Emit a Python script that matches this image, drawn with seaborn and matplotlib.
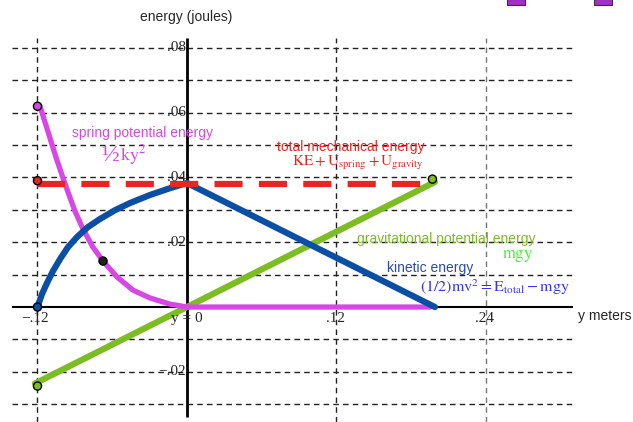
import numpy as np
import matplotlib
matplotlib.use("Agg")
import matplotlib.pyplot as plt
import seaborn as sns
from matplotlib.patches import Rectangle

sns.set_theme(style="white")
plt.rcParams['font.family'] = ['Liberation Sans', 'DejaVu Sans']
plt.rcParams['mathtext.fontset'] = 'stix'

# data (y in metres, energy in joules)
spring_y = [-0.118, -0.114, -0.110, -0.1052, -0.0995, -0.0947, -0.0899, -0.0835,
            -0.0755, -0.0674, -0.0562, -0.0433, -0.0297, -0.0136, 0.0, 0.195]
spring_e = [0.062, 0.0571, 0.0522, 0.0463, 0.0398, 0.0346, 0.0296, 0.0241,
            0.0185, 0.0142, 0.0093, 0.0052, 0.0028, 0.0009, 0.0, 0.0]

kinetic_y = [-0.12, -0.1164, -0.1124, -0.1076, -0.1019, -0.0955, -0.0883, -0.0795,
             -0.0698, -0.0578, -0.0458, -0.0297, -0.0136, 0.0, 0.199]
kinetic_e = [0.0, 0.0040, 0.0074, 0.0111, 0.0148, 0.0185, 0.0216, 0.0247,
             0.0272, 0.0299, 0.0321, 0.0346, 0.0367, 0.0383, 0.0]

grav_y = [-0.122, 0.0, 0.199]
grav_e = [-0.0236, 0.0, 0.0386]

total_y = [-0.12, 0.2]
total_e = [0.038, 0.038]

# end-point dots
dot_y = [-0.12, -0.12, -0.0674, -0.12, -0.12, 0.197]
dot_e = [0.062, 0.039, 0.0142, 0.0, -0.0244, 0.0395]
dot_c = ["#d946e6", "#e8261f", "#222222", "#0b4ea6", "#7bbd22", "#7bbd22"]

grid_levels = [-0.03, -0.02, -0.01, 0.01, 0.02, 0.03, 0.04, 0.05, 0.06, 0.07, 0.08]
grid_x = [-0.12, 0.12, 0.24]
grid_x_col = ["#222222", "#222222", "#777777"]

ytick_vals = [0.08, 0.06, 0.04, 0.02, -0.02]
ytick_labels = [".08", ".06", ".04", ".02", "\u2212.02"]
xtick_vals = [-0.122, 0.0, 0.1196, 0.2392]
xtick_labels = ["\u2212.12", "y = 0", ".12", ".24"]

MAGENTA = "#d946e6"
BLUE = "#0b4ea6"
GREEN = "#7bbd22"
RED = "#e8261f"

fig = plt.figure(figsize=(6.33, 4.22), dpi=100)
ax = fig.add_axes([0, 0, 1, 1])
ax.set_xlim(-0.1501, 0.3580)
ax.set_ylim(-0.0355, 0.0948)
ax.axis("off")

# dashed grid
ax.hlines(grid_levels, -0.1405, 0.3098, colors="#222222", linewidth=1.0,
          linestyles=(0, (4, 3)), zorder=1)
for gx, gc in zip(grid_x, grid_x_col):
    ax.vlines(gx, -0.0355, 0.083, colors=gc, linewidth=1.0,
              linestyles=(0, (4, 3)), zorder=1)

# axes
ax.hlines(0, -0.1405, 0.3098, colors="black", linewidth=1.5, zorder=2)
ax.vlines(0, -0.034, 0.083, colors="black", linewidth=2, zorder=2)

# curves
sns.lineplot(x=grav_y, y=grav_e, ax=ax, color=GREEN, linewidth=4.5, sort=False, zorder=3)
sns.lineplot(x=spring_y, y=spring_e, ax=ax, color=MAGENTA, linewidth=3.8, sort=False, zorder=4)
sns.lineplot(x=kinetic_y, y=kinetic_e, ax=ax, color=BLUE, linewidth=4.5, sort=False, zorder=5)
for ln in ax.lines:
    ln.set_solid_joinstyle("round")
sns.lineplot(x=total_y, y=total_e, ax=ax, color=RED, linewidth=4.5, sort=False, zorder=6)
ax.lines[-1].set_dashes([4.5, 2.6])
ax.lines[-1].set_solid_capstyle("butt")

sns.scatterplot(x=dot_y, y=dot_e, ax=ax, color=dot_c, s=34, edgecolor="black",
                linewidth=1.0, zorder=7, legend=False)

# tick labels
for v, lab in zip(ytick_vals, ytick_labels):
    ax.text(-0.001, v, lab, ha="right", va="center", fontsize=11,
            family="Liberation Serif", zorder=8)
for v, lab in zip(xtick_vals, xtick_labels):
    ax.text(v, -0.0035, lab, ha="center", va="center", fontsize=11,
            family="Liberation Serif", zorder=8)

# axis titles
ax.text(-0.0008, 0.0895, "energy (joules)", ha="center", va="center", fontsize=10)
ax.text(0.3139, -0.0028, "y meters", ha="left", va="center", fontsize=10)

# annotations
ax.text(-0.0923, 0.0537, "spring potential energy", color=MAGENTA, fontsize=10,
        ha="left", va="center")
ax.text(-0.0690, 0.0470, "\u00bd", family="Liberation Serif", color=MAGENTA,
        fontsize=17, ha="left", va="center")
ax.text(-0.0535, 0.0468, r"$\mathrm{ky}^{2}$", color=MAGENTA, fontsize=13,
        ha="left", va="center")
ax.text(0.0722, 0.0494, "total mechanical energy", color=RED, fontsize=10,
        ha="left", va="center")
ax.text(0.0843, 0.0444,
        r"$\mathrm{KE} + \mathrm{U}_{\mathrm{spring}} + \mathrm{U}_{\mathrm{gravity}}$",
        color=RED, fontsize=11, ha="left", va="center")
ax.text(0.1365, 0.0210, "gravitational potential energy", color=GREEN, fontsize=10,
        ha="left", va="center")
ax.text(0.2657, 0.0157, r"$\mathrm{mgy}$", color="#44ee33", fontsize=12,
        ha="center", va="center")
ax.text(0.1605, 0.0120, "kinetic energy", color="#2a4aa8", fontsize=10,
        ha="left", va="center")
ax.text(0.187, 0.0062,
        r"$\mathrm{(1/2)mv}^{2} = \mathrm{E}_{\mathrm{total}} - \mathrm{mgy}$",
        color="#3535ee", fontsize=11.5, ha="left", va="center")

# cropped toolbar icons at the top edge
for left in (507, 594):
    fig.patches.append(Rectangle((left / 633, 1 - 5 / 422), 18 / 633, 6 / 422,
                                 transform=fig.transFigure, facecolor="#a030c8",
                                 edgecolor="#333333", linewidth=0.8))

fig.savefig("out.png", dpi=100)
